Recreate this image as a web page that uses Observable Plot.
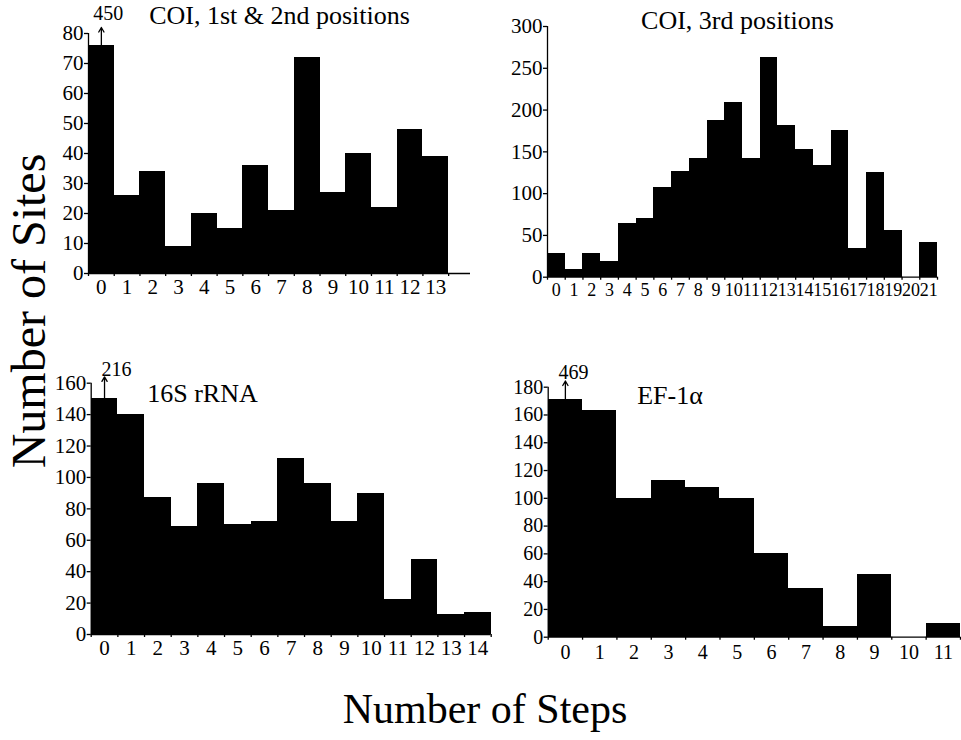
<!DOCTYPE html>
<html>
<head>
<meta charset="utf-8">
<script src="https://cdn.jsdelivr.net/npm/d3@7"></script>
<script src="https://cdn.jsdelivr.net/npm/@observablehq/plot@0.6"></script>
<style>
  html, body { margin: 0; padding: 0; background: #fff; }
  #wrap { position: relative; width: 961px; height: 740px; overflow: hidden;
          font-family: "Liberation Serif", "Times New Roman", serif; color: #000; }
  #wrap svg, #wrap svg text { font-family: "Liberation Serif", "Times New Roman", serif !important; }
  .panel { position: absolute; }
  .ylab { position: absolute; left: 28px; top: 311px; font-size: 48px; white-space: nowrap;
          transform: translate(-50%, -50%) rotate(-90deg); }
  .xlab { position: absolute; left: 485px; top: 709px; font-size: 42px; white-space: nowrap;
          transform: translate(-50%, -50%); }
</style>
</head>
<body>
<div id="wrap">
  <div class="ylab">Number of Sites</div>
  <div class="xlab">Number of Steps</div>
</div>
<script>
// ---- Data ----
const coi12Title = "COI, 1st & 2nd positions";
const coi12Steps = [0,1,2,3,4,5,6,7,8,9,10,11,12,13];
const coi12Counts = [450,26,34,9,20,15,36,21,72,27,40,22,48,39];
const coi12Shown = 76;      // height the off-scale bar is drawn at

const coi3Title = "COI, 3rd positions";
const coi3Steps = [0,1,2,3,4,5,6,7,8,9,10,11,12,13,14,15,16,17,18,19,20,21];
const coi3Counts = [28,9,28,19,64,70,107,126,142,188,209,142,263,181,153,134,175,34,125,56,0,42];

const rrnaTitle = "16S rRNA";
const rrnaSteps = [0,1,2,3,4,5,6,7,8,9,10,11,12,13,14];
const rrnaCounts = [216,140,87,69,96,70,72,112,96,72,90,22,48,13,14];
const rrnaShown = 150;

const ef1aTitle = "EF-1\u03b1";
const ef1aSteps = [0,1,2,3,4,5,6,7,8,9,10,11];
const ef1aCounts = [469,163,100,113,108,100,60,35,8,45,0,10];
const ef1aShown = 171;

const FONT = '"Liberation Serif", "Times New Roman", serif';

function panel(cfg) {
  const data = cfg.steps.map((s, i) => ({step: s, count: cfg.counts[i]}));
  const clip = cfg.shown ?? Infinity;
  const n = cfg.steps.length;
  const bounds = d3.range(0, n + 1);
  const centers = cfg.steps.map(s => s + 0.5);
  const broken = data.filter(d => d.count > clip);
  const marks = [
    Plot.rectY(data, {x1: "step", x2: d => d.step + 1, y1: 0, y2: d => Math.min(d.count, clip),
                      fill: "#000", inset: 0, shapeRendering: "crispEdges"}),
    Plot.ruleX([0], {stroke: "#000", strokeWidth: 1.3}),
    Plot.ruleY([0], {stroke: "#000", strokeWidth: 1.3}),
    Plot.axisY({ticks: d3.range(0, cfg.yMax + 1, cfg.yStep), tickSize: 4, tickPadding: 1, label: null,
                fontSize: cfg.yFont, fontFamily: FONT, strokeWidth: 1.3}),
    Plot.axisX({ticks: bounds, tickSize: 3, tickFormat: () => "", label: null, strokeWidth: 1.3}),
    Plot.axisX({ticks: centers, tickSize: 0, tickPadding: cfg.xPad, tickFormat: d => String(d - 0.5),
                label: null, fontSize: cfg.xFont, fontFamily: FONT}),
    Plot.text([cfg.title], {text: d => d, frameAnchor: cfg.titleAnchor, textAnchor: cfg.titleTextAnchor,
                lineAnchor: "middle", dx: cfg.titleDx, dy: cfg.titleDy, fontSize: 26, fontFamily: FONT})
  ];
  if (broken.length) {
    marks.push(
      Plot.arrow(broken, {x1: d => d.step + 0.5, x2: d => d.step + 0.5, y1: clip, y2: cfg.yMax * 1.025,
                          headLength: 6, strokeWidth: 1.3, stroke: "#000"}),
      Plot.text(broken, {x: d => d.step + 0.5, y: cfg.yMax, text: d => String(d.count), textAnchor: "start",
                         lineAnchor: "bottom", dx: cfg.annDx, dy: cfg.annDy, fontSize: 20, fontFamily: FONT})
    );
  }
  const svg = Plot.plot({
    width: cfg.width, height: cfg.height,
    marginLeft: cfg.ml, marginRight: cfg.mr, marginTop: cfg.mt, marginBottom: cfg.mb,
    x: {domain: [0, cfg.xMax], axis: null},
    y: {domain: [0, cfg.yMax], axis: null},
    style: {fontFamily: FONT, fontSize: "21px", background: "transparent", color: "#000", overflow: "visible"},
    marks
  });
  const div = document.createElement("div");
  div.className = "panel";
  div.style.left = cfg.left + "px";
  div.style.top = cfg.top + "px";
  div.appendChild(svg);
  document.getElementById("wrap").appendChild(div);
}

panel({title: coi12Title, steps: coi12Steps, counts: coi12Counts, shown: coi12Shown,
  yMax: 80, yStep: 10, xMax: 14.85, left: 0, top: 0, width: 480, height: 310,
  ml: 88, mr: 10, mt: 33, mb: 37, yFont: 21, xFont: 21, xPad: 6,
  titleAnchor: "top", titleTextAnchor: "middle", titleDx: 0, titleDy: -18,
  annDx: -8, annDy: -14});

panel({title: coi3Title, steps: coi3Steps, counts: coi3Counts,
  yMax: 300, yStep: 50, xMax: 22, left: 480, top: 0, width: 470, height: 310,
  ml: 67, mr: 13, mt: 26, mb: 33.3, yFont: 21, xFont: 18, xPad: 6,
  titleAnchor: "top", titleTextAnchor: "middle", titleDx: -5, titleDy: -6});

panel({title: rrnaTitle, steps: rrnaSteps, counts: rrnaCounts, shown: rrnaShown,
  yMax: 160, yStep: 20, xMax: 15, left: 0, top: 340, width: 500, height: 330,
  ml: 90.7, mr: 9.3, mt: 42.7, mb: 36, yFont: 21, xFont: 21, xPad: 6,
  titleAnchor: "top-left", titleTextAnchor: "start", titleDx: 56, titleDy: 10,
  annDx: -3, annDy: -7});

panel({title: ef1aTitle, steps: ef1aSteps, counts: ef1aCounts, shown: ef1aShown,
  yMax: 180, yStep: 20, xMax: 12, left: 480, top: 340, width: 481, height: 330,
  ml: 67.7, mr: 1, mt: 46.7, mb: 33.3, yFont: 20, xFont: 20, xPad: 8,
  titleAnchor: "top-left", titleTextAnchor: "start", titleDx: 89, titleDy: 8,
  annDx: -7, annDy: -8});
</script>
</body>
</html>
